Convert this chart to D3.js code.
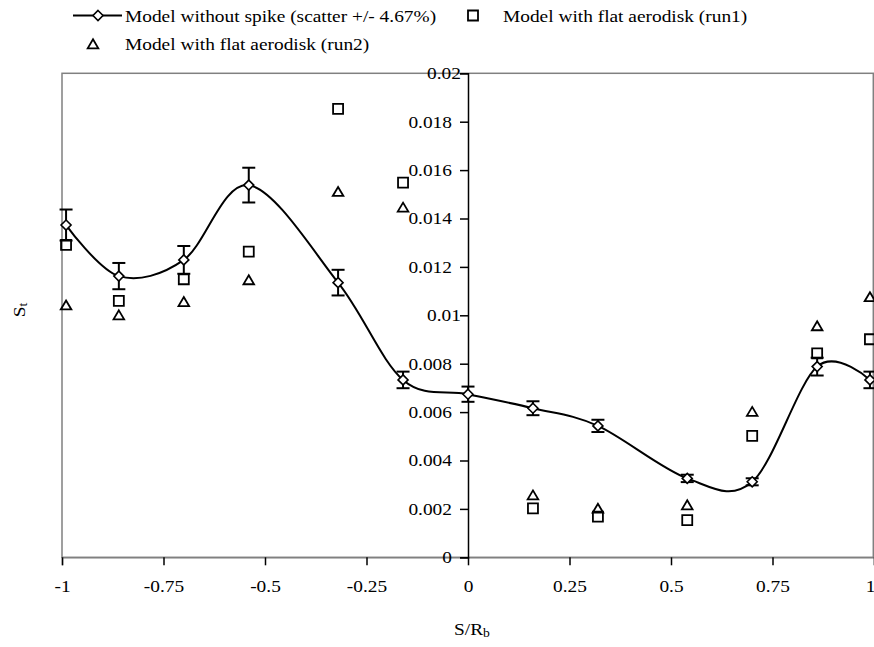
<!DOCTYPE html>
<html><head><meta charset="utf-8">
<script src="https://cdn.jsdelivr.net/npm/d3@7/dist/d3.min.js"></script>
<style>
body{margin:0;background:#fff;}
svg text{font-family:"Liberation Serif","Times New Roman",Times,serif;fill:#000;}
</style></head>
<body><svg id="c" width="874" height="647"></svg>
<script>
const xPos   = [-0.99,-0.86,-0.70,-0.54,-0.32,-0.16,0,0.16,0.32,0.54,0.70,0.86,0.99];
const noSpike= [0.01373,0.01162,0.01229,0.01538,0.01135,0.00733,0.00674,0.00616,0.00543,0.00326,0.00312,0.00788,0.00733];
const run1   = [0.01291,0.0106,0.01149,0.01263,0.01853,0.01548,null,0.00202,0.00168,0.00154,0.00502,0.00843,0.00901];
const run2   = [0.01042,0.01001,0.01056,0.01146,0.01511,0.01446,null,0.00257,0.00202,0.00216,0.00602,0.00956,0.01076];
const scatterPct = 0.0467;
const xTicks = [-1,-0.75,-0.5,-0.25,0,0.25,0.5,0.75,1];
const yTicks = [0,0.002,0.004,0.006,0.008,0.01,0.012,0.014,0.016,0.018,0.02];
const seriesNames = ["Model without spike (scatter +/- 4.67%)","Model with flat aerodisk (run1)","Model with flat aerodisk (run2)"];

const svg = d3.select("#c");
const x = d3.scaleLinear([-1,1],[62,874]);
const y = d3.scaleLinear([0,0.02],[557.3,73.3]);
const FS = 17;
const SX = 1.14; // horizontal stretch of the reference typeface

// frame
svg.append("rect").attr("x",x(-1)).attr("y",y(0.02)).attr("width",x(1)-x(-1)-0.7).attr("height",y(0)-y(0.02))
  .attr("fill","none").attr("stroke","#808080").attr("stroke-width",1.5);

// x axis
const xa = svg.append("g").attr("transform",`translate(0,${y(0)})`)
  .call(d3.axisBottom(x).tickValues(xTicks).tickSize(8).tickPadding(15).tickFormat(d=>String(d)));
xa.attr("font-family",null);
xa.select(".domain").attr("stroke","#808080").attr("stroke-width",1.5);
xa.selectAll(".tick line").attr("stroke","#000").attr("stroke-width",1.5);
xa.selectAll(".tick text").attr("font-size",FS).attr("fill","#000")
  .attr("text-anchor",d=>d===1?"end":"middle")
  .attr("transform",d=>d===1?`translate(1,0) scale(${SX},1)`:`scale(${SX},1)`);

// y axis at x=0
const ya = svg.append("g").attr("transform",`translate(${x(0)},0)`)
  .call(d3.axisLeft(y).tickValues(yTicks).tickSize(8).tickPadding(8).tickFormat(d=>String(+d.toFixed(3))));
ya.attr("font-family",null);
ya.select(".domain").attr("stroke","#000").attr("stroke-width",1.5);
ya.selectAll(".tick line").attr("stroke","#000").attr("stroke-width",1.5);
ya.selectAll(".tick text").attr("font-size",FS).attr("fill","#000").attr("x",0)
  .attr("transform",d=>`translate(${String(+d.toFixed(3)).length===4?-7:-16},0) scale(${SX},1)`);

// data
const pts = xPos.map((v,i)=>({x:v,y:noSpike[i]}));
const line = d3.line().x(d=>x(d.x)).y(d=>y(d.y)).curve(d3.curveCardinal.tension(0));
svg.append("path").attr("d",line(pts)).attr("fill","none").attr("stroke","#000").attr("stroke-width",2);

// error bars
const eb = svg.append("g").attr("stroke","#000").attr("stroke-width",2);
pts.forEach(d=>{
  const hi=y(d.y*(1+scatterPct)), lo=y(d.y*(1-scatterPct)), cx=x(d.x);
  eb.append("line").attr("x1",cx).attr("x2",cx).attr("y1",hi).attr("y2",lo);
  eb.append("line").attr("x1",cx-6.5).attr("x2",cx+6.5).attr("y1",hi).attr("y2",hi);
  eb.append("line").attr("x1",cx-6.5).attr("x2",cx+6.5).attr("y1",lo).attr("y2",lo);
});

const diamond = "M0,-5L5,0L0,5L-5,0Z";
const square = "M-5,-5H5V5H-5Z";
const tri = "M0,-4.7L5.3,4.3H-5.3Z";

svg.append("g").selectAll("path").data(pts).join("path")
  .attr("d",diamond).attr("transform",d=>`translate(${x(d.x)},${y(d.y)})`)
  .attr("fill","#fff").attr("stroke","#000").attr("stroke-width",1.6);

svg.append("g").selectAll("path").data(xPos.map((v,i)=>({x:v,y:run1[i]})).filter(d=>d.y!=null)).join("path")
  .attr("d",square).attr("transform",d=>`translate(${x(d.x)},${y(d.y)})`)
  .attr("fill","none").attr("stroke","#000").attr("stroke-width",1.8);

svg.append("g").selectAll("path").data(xPos.map((v,i)=>({x:v,y:run2[i]})).filter(d=>d.y!=null)).join("path")
  .attr("d",tri).attr("transform",d=>`translate(${x(d.x)},${y(d.y)})`)
  .attr("fill","none").attr("stroke","#000").attr("stroke-width",1.8);

// legend
const lg = svg.append("g");
lg.append("line").attr("x1",73).attr("x2",122).attr("y1",15.5).attr("y2",15.5).attr("stroke","#000").attr("stroke-width",2);
lg.append("path").attr("d",diamond).attr("transform","translate(98,15.5)").attr("fill","#fff").attr("stroke","#000").attr("stroke-width",1.6);
lg.append("text").attr("transform",`translate(125,21.5) scale(${SX},1)`).attr("font-size",FS).text(seriesNames[0]);
lg.append("path").attr("d",square).attr("transform","translate(473,15.5)").attr("fill","none").attr("stroke","#000").attr("stroke-width",1.8);
lg.append("text").attr("transform",`translate(503,21.5) scale(${SX},1)`).attr("font-size",FS).text(seriesNames[1]);
lg.append("path").attr("d",tri).attr("transform","translate(93,44)").attr("fill","none").attr("stroke","#000").attr("stroke-width",1.8);
lg.append("text").attr("transform",`translate(125,50) scale(${SX},1)`).attr("font-size",FS).text(seriesNames[2]);

// axis titles
const xt = svg.append("text").attr("transform",`translate(472,635) scale(${SX},1)`).attr("text-anchor","middle").attr("font-size",FS);
xt.append("tspan").text("S/R");
xt.append("tspan").attr("font-size",12).attr("dy",2).text("b");
const yt = svg.append("text").attr("transform",`translate(25,310) rotate(-90) scale(${SX},1)`).attr("text-anchor","middle").attr("font-size",FS);
yt.append("tspan").text("S");
yt.append("tspan").attr("font-size",12).attr("dy",2).text("t");
</script></body></html>
